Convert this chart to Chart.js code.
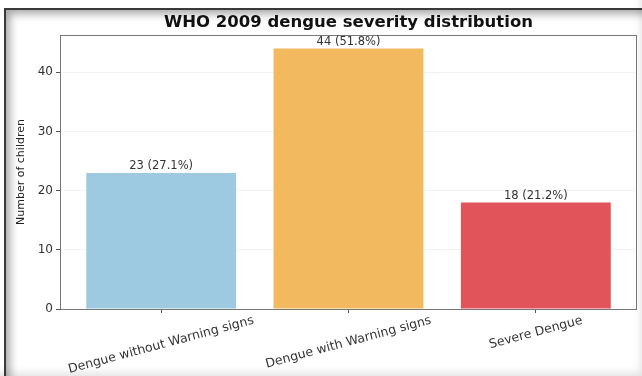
<!DOCTYPE html>
<html>
<head>
<meta charset="utf-8">
<script src="https://cdn.jsdelivr.net/npm/chart.js@4"></script>
<style>
  html, body { margin: 0; padding: 0; background: #fff; }
  #wrap { position: relative; width: 642px; height: 376px; overflow: hidden; }
  #frame {
    position: absolute; left: 4px; top: 8px; width: 650px; height: 380px;
    border-top: 2px solid #3a3a3a; border-left: 2px solid #3a3a3a;
    box-shadow: inset 7px 7px 9px -3px rgba(0,0,0,0.35);
  }
  #edge {
    position: absolute; left: 0; top: 0; width: 642px; height: 376px;
    box-shadow: inset -4px -6px 8px -3px rgba(0,0,0,0.12);
  }
  #myChart { position: absolute; left: 0; top: 0; }
</style>
</head>
<body>
<div id="wrap">
  <div id="frame"></div>
  <div id="edge"></div>
  <canvas id="myChart" width="642" height="376"></canvas>
</div>
<script>
// data
const categories = ['Dengue without Warning signs', 'Dengue with Warning signs', 'Severe Dengue'];
const counts = [23, 44, 18];
const percents = ['27.1%', '51.8%', '21.2%'];
const barColors = ['#9dcae1', '#f3b95f', '#e0545a'];
const yTicks = [0, 10, 20, 30, 40];

const chartTitle = 'WHO 2009 dengue severity distribution';

// bars sit at x = 0, 1, 2 on a linear axis, like matplotlib does
const points = counts.map((v, i) => ({ x: i, y: v }));

// title over the plot area, value labels, rotated category labels, axes box
const extras = {
    id: 'extras',
    afterDatasetsDraw(chart) {
        const ctx = chart.ctx;
        const area = chart.chartArea;
        ctx.save();

        // box round the plot
        ctx.strokeStyle = '#777';
        ctx.lineWidth = 1;
        ctx.strokeRect(area.left + 0.5, area.top + 0.5, area.right - area.left - 1, area.bottom - area.top);

        // title
        ctx.fillStyle = '#111';
        ctx.font = 'bold 16.5px "DejaVu Sans"';
        ctx.textAlign = 'center';
        ctx.textBaseline = 'middle';
        ctx.fillText(chartTitle, (area.left + area.right) / 2, 23);

        // value labels
        const meta = chart.getDatasetMeta(0);
        ctx.font = '11.5px "DejaVu Sans"';
        ctx.fillStyle = '#333';
        ctx.textBaseline = 'bottom';
        meta.data.forEach((bar, i) => {
            ctx.fillText(counts[i] + ' (' + percents[i] + ')', bar.x, bar.y - 1);
        });

        // category labels, rotated 15 degrees, centred on the tick
        const xScale = chart.scales.x;
        const ang = 15 * Math.PI / 180;
        ctx.font = '12.5px "DejaVu Sans"';
        ctx.fillStyle = '#333';
        ctx.textBaseline = 'middle';
        categories.forEach((lab, i) => {
            const w = ctx.measureText(lab).width;
            const h = 13;
            const bh = w * Math.sin(ang) + h * Math.cos(ang);
            const cx = xScale.getPixelForValue(i);
            const cy = area.bottom + 5 + bh / 2;
            ctx.save();
            ctx.translate(cx, cy);
            ctx.rotate(-ang);
            ctx.fillText(lab, 0, 0);
            ctx.restore();
        });
        ctx.restore();
    }
};

const ctx = document.getElementById('myChart').getContext('2d');
const chart = new Chart(ctx, {
    type: 'bar',
    data: {
        datasets: [{
            label: 'Number of children',
            data: points,
            backgroundColor: barColors,
            borderWidth: 0,
            categoryPercentage: 1.0,
            barPercentage: 0.8
        }]
    },
    options: {
        responsive: false,
        animation: false,
        layout: { padding: { left: 0, right: 5, top: 35, bottom: 0 } },
        plugins: {
            legend: { display: false },
            tooltip: { enabled: false },
            title: { display: false }
        },
        scales: {
            x: {
                type: 'linear',
                min: -0.54,
                max: 2.54,
                offset: false,
                grid: { offset: false, drawOnChartArea: false, drawTicks: true, tickLength: 4, tickColor: '#555' },
                border: { display: false },
                ticks: {
                    display: false,
                    stepSize: 1,
                    includeBounds: false
                },
                afterBuildTicks: (s) => { s.ticks = categories.map((c, i) => ({ value: i })); },
                afterFit: (s) => { s.height = 67; }
            },
            y: {
                min: 0,
                max: 46.3,
                grid: { color: '#f2f2f2', tickLength: 4, tickColor: '#555' },
                border: { display: false },
                ticks: {
                    stepSize: 10,
                    includeBounds: false,
                    padding: 3,
                    color: '#333',
                    font: { family: 'DejaVu Sans', size: 12 },
                    callback: (v) => yTicks.includes(v) ? v : null
                },
                title: {
                    display: true,
                    text: 'Number of children',
                    color: '#222',
                    font: { family: 'DejaVu Sans', size: 11 },
                    padding: { top: 15, bottom: 0 }
                },
                afterFit: (s) => { s.width = 60; }
            }
        }
    },
    plugins: [extras]
});
</script>
</body>
</html>
